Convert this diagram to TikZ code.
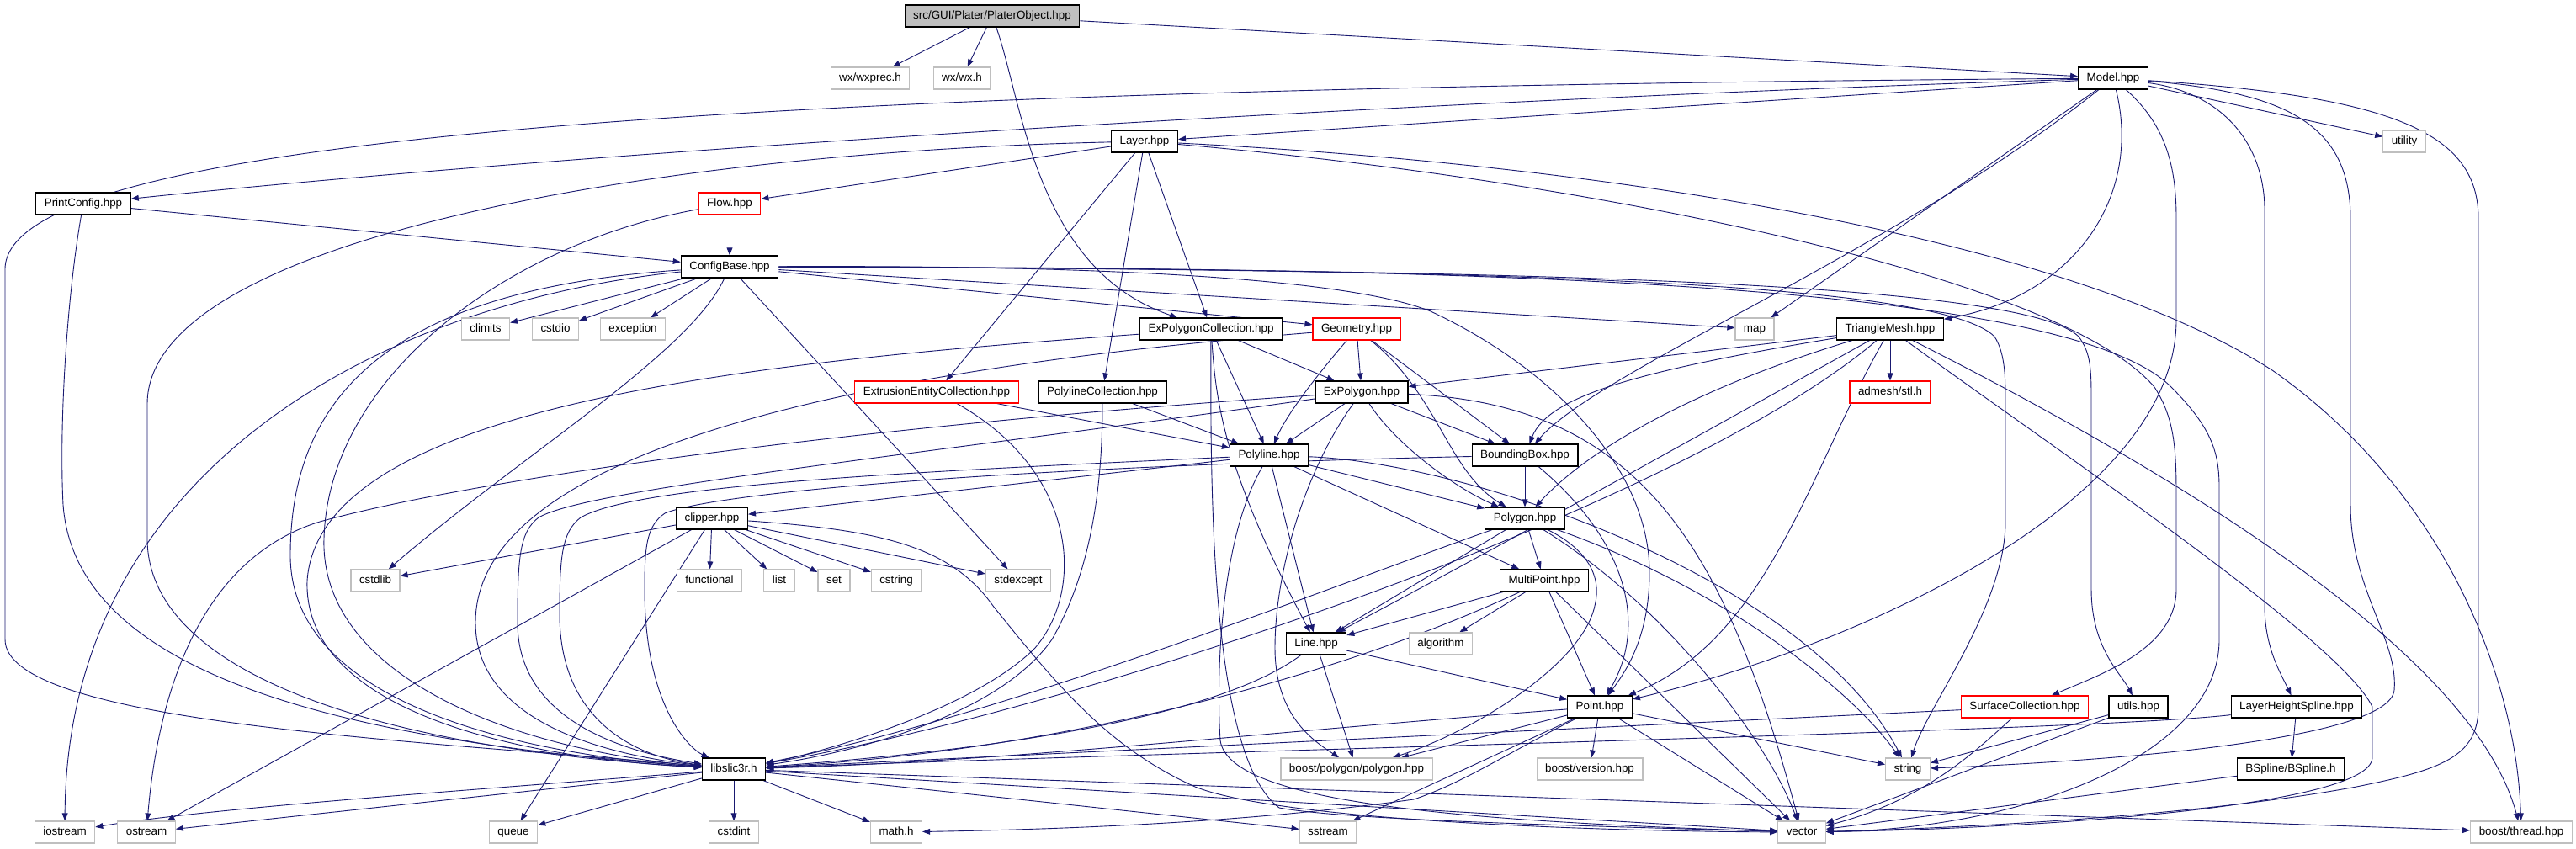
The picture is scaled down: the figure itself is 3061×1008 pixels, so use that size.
\documentclass[tikz,border=0pt]{standalone}
\usepackage{fontspec}
\setmainfont{Liberation Sans}
\usetikzlibrary{arrows.meta,backgrounds}

\definecolor{edgeblue}{HTML}{191970}
\definecolor{boxgray}{HTML}{BFBFBF}
\definecolor{boxred}{HTML}{FF0000}

\tikzset{
  filenode/.style={draw=black, fill=white, line width=0.6pt, inner xsep=5pt, inner ysep=0pt,
    minimum height=13pt, text height=5pt, text depth=1.4pt, font=\fontsize{6.7}{8}\selectfont},
  sysnode/.style={filenode, draw=boxgray},
  rednode/.style={filenode, draw=boxred},
  rootnode/.style={filenode, fill=boxgray},
  dep/.style={draw=edgeblue, line width=0.45pt, -{Triangle[length=4.5pt,width=3.4pt]}}
}

\begin{document}
\begin{tikzpicture}[x=0.5pt, y=-0.5pt]
  \useasboundingbox (0,0) rectangle (3061,1008);

  % Define the file nodes
  \node[rootnode] (root) at (1179,19) {src/GUI/Plater/PlaterObject.hpp};
  \node[sysnode] (wxprec) at (1034,93) {wx/wxprec.h};
  \node[sysnode] (wxh) at (1143,93) {wx/wx.h};
  \node[filenode] (model) at (2511,93) {Model.hpp};
  \node[filenode] (layer) at (1360,168) {Layer.hpp};
  \node[sysnode] (utility) at (2857,168) {utility};
  \node[filenode] (printcfg) at (99,242) {PrintConfig.hpp};
  \node[rednode] (flow) at (867,242) {Flow.hpp};
  \node[filenode] (cfgbase) at (867,317) {ConfigBase.hpp};
  \node[sysnode] (climits) at (577,391) {climits};
  \node[sysnode] (cstdio) at (660,391) {cstdio};
  \node[sysnode] (exception) at (752,391) {exception};
  \node[filenode] (expolycoll) at (1439,391) {ExPolygonCollection.hpp};
  \node[rednode] (geometry) at (1612,391) {Geometry.hpp};
  \node[sysnode] (map) at (2085,391) {map};
  \node[filenode] (trimesh) at (2246,391) {TriangleMesh.hpp};
  \node[rednode] (extrcoll) at (1113,466) {ExtrusionEntityCollection.hpp};
  \node[filenode] (polylinecoll) at (1310,466) {PolylineCollection.hpp};
  \node[filenode] (expolygon) at (1618,466) {ExPolygon.hpp};
  \node[rednode] (admesh) at (2246,466) {admesh/stl.h};
  \node[filenode] (polyline) at (1508,541) {Polyline.hpp};
  \node[filenode] (bbox) at (1812,541) {BoundingBox.hpp};
  \node[filenode] (clipper) at (846,616) {clipper.hpp};
  \node[filenode] (polygon) at (1812,616) {Polygon.hpp};
  \node[sysnode] (cstdlib) at (446,690) {cstdlib};
  \node[sysnode] (functional) at (843,690) {functional};
  \node[sysnode] (list) at (926,690) {list};
  \node[sysnode] (set) at (991,690) {set};
  \node[sysnode] (cstring) at (1065,690) {cstring};
  \node[sysnode] (stdexcept) at (1210,690) {stdexcept};
  \node[filenode] (multipoint) at (1835,690) {MultiPoint.hpp};
  \node[filenode] (line) at (1564,765) {Line.hpp};
  \node[sysnode] (algorithm) at (1712,765) {algorithm};
  \node[filenode] (point) at (1901,840) {Point.hpp};
  \node[rednode] (surfcoll) at (2406,840) {SurfaceCollection.hpp};
  \node[filenode] (utils) at (2541,840) {utils.hpp};
  \node[filenode] (lhspline) at (2729,840) {LayerHeightSpline.hpp};
  \node[filenode] (libslic3r) at (872,914) {libslic3r.h};
  \node[sysnode] (boostpoly) at (1612,914) {boost/polygon/polygon.hpp};
  \node[sysnode] (boostver) at (1889,914) {boost/version.hpp};
  \node[sysnode] (string) at (2267,914) {string};
  \node[filenode] (bspline) at (2722,914) {BSpline/BSpline.h};
  \node[sysnode] (iostream) at (77,989) {iostream};
  \node[sysnode] (ostream) at (174,989) {ostream};
  \node[sysnode] (queue) at (610,989) {queue};
  \node[sysnode] (cstdint) at (872,989) {cstdint};
  \node[sysnode] (mathh) at (1065,989) {math.h};
  \node[sysnode] (sstream) at (1578,989) {sstream};
  \node[sysnode] (vector) at (2141,989) {vector};
  \node[sysnode] (boostthread) at (2996,989) {boost/thread.hpp};

  \begin{pgfonlayer}{background}
  \fill[white] (0,0) rectangle (3061,1008);

  % PlaterObject.hpp
  \draw[dep] (root) -- (wxprec);
  \draw[dep] (root) -- (wxh);
  \draw[dep] (root) -- (model);
  \draw[dep] (root) .. controls (1215,120) and (1230,320) .. (expolycoll);

  % Model.hpp
  \draw[dep] (model) -- (layer);
  \draw[dep] (model) -- (utility);
  \draw[dep] (model) .. controls (1800,115) and (800,170) .. (printcfg);
  \draw[dep] (model) .. controls (900,105) and (6,160) .. (6,320) -- (6,760) .. controls (6,860) and (500,880) .. (libslic3r);
  \draw[dep] (model) -- (map);
  \draw[dep] (model) .. controls (2250,300) and (1900,440) .. (bbox);
  \draw[dep] (model) .. controls (2545,230) and (2470,350) .. (trimesh);
  \draw[dep] (model) .. controls (2575,150) and (2586,200) .. (2586,260) -- (2586,380) .. controls (2586,600) and (2200,770) .. (point);
  \draw[dep] (model) .. controls (2640,110) and (2691,170) .. (2691,250) -- (2691,720) .. controls (2691,770) and (2710,800) .. (lhspline);
  \draw[dep] (model) .. controls (2720,110) and (2793,150) .. (2793,260) -- (2793,600) .. controls (2793,700) and (2850,760) .. (2845,820) .. controls (2840,880) and (2500,905) .. (string);
  \draw[dep] (model) .. controls (2850,115) and (2945,160) .. (2945,260) -- (2945,840) .. controls (2945,900) and (2900,915) .. (2800,935) .. controls (2600,972) and (2300,985) .. (vector);

  % Layer.hpp
  \draw[dep] (layer) .. controls (800,180) and (175,280) .. (175,480) -- (175,640) .. controls (175,800) and (450,890) .. (libslic3r);
  \draw[dep] (layer) -- (flow);
  \draw[dep] (layer) -- (extrcoll);
  \draw[dep] (layer) -- (polylinecoll);
  \draw[dep] (layer) -- (expolycoll);
  \draw[dep] (layer) .. controls (1900,215) and (2450,330) .. (2560,460) .. controls (2586,500) and (2586,540) .. (2586,600) -- (2586,700) .. controls (2586,770) and (2500,800) .. (surfcoll);
  \draw[dep] (layer) .. controls (1900,195) and (2450,280) .. (2700,440) .. controls (2900,580) and (2990,800) .. (boostthread);

  % PrintConfig.hpp and Flow.hpp
  \draw[dep] (printcfg) -- (cfgbase);
  \draw[dep] (printcfg) .. controls (80,350) and (70,500) .. (75,600) .. controls (90,800) and (400,880) .. (libslic3r);
  \draw[dep] (flow) -- (cfgbase);
  \draw[dep] (flow) .. controls (600,290) and (390,450) .. (385,640) .. controls (380,800) and (600,890) .. (libslic3r);

  % ConfigBase.hpp
  \draw[dep] (cfgbase) -- (climits);
  \draw[dep] (cfgbase) -- (cstdio);
  \draw[dep] (cfgbase) -- (exception);
  \draw[dep] (cfgbase) .. controls (820,420) and (620,540) .. (cstdlib);
  \draw[dep] (cfgbase) -- (stdexcept);
  \draw[dep] (cfgbase) .. controls (450,360) and (80,560) .. (iostream);
  \draw[dep] (cfgbase) .. controls (450,345) and (345,480) .. (345,660) .. controls (345,830) and (600,895) .. (libslic3r);
  \draw[dep] (cfgbase) -- (geometry);
  \draw[dep] (cfgbase) -- (map);
  \draw[dep] (cfgbase) .. controls (1300,315) and (1600,330) .. (1700,370) .. controls (1850,440) and (1960,560) .. (1960,680) .. controls (1960,760) and (1930,800) .. (point);
  \draw[dep] (cfgbase) .. controls (1700,320) and (2400,330) .. (2470,400) .. controls (2485,420) and (2485,440) .. (2485,480) -- (2485,700) .. controls (2485,770) and (2520,800) .. (utils);
  \draw[dep] (cfgbase) .. controls (1700,320) and (2300,330) .. (2370,400) .. controls (2383,420) and (2383,450) .. (2383,480) -- (2383,620) .. controls (2383,720) and (2290,840) .. (string);
  \draw[dep] (cfgbase) .. controls (1700,318) and (2450,330) .. (2580,460) .. controls (2630,510) and (2637,540) .. (2637,580) -- (2637,760) .. controls (2637,900) and (2400,985) .. (vector);

  % ExPolygonCollection.hpp and Geometry.hpp
  \draw[dep] (expolycoll) .. controls (900,430) and (380,480) .. (365,690) .. controls (360,840) and (600,900) .. (libslic3r);
  \draw[dep] (expolycoll) -- (polyline);
  \draw[dep] (expolycoll) -- (expolygon);
  \draw[dep] (expolycoll) .. controls (1445,480) and (1455,560) .. (line);
  \draw[dep] (expolycoll) .. controls (1438,600) and (1440,900) .. (1520,960) .. controls (1600,975) and (1900,982) .. (vector);
  \draw[dep] (geometry) .. controls (1000,440) and (565,540) .. (565,740) .. controls (565,850) and (700,895) .. (libslic3r);
  \draw[dep] (geometry) .. controls (1570,440) and (1530,490) .. (polyline);
  \draw[dep] (geometry) -- (expolygon);
  \draw[dep] (geometry) -- (bbox);
  \draw[dep] (geometry) .. controls (1710,470) and (1720,560) .. (polygon);

  % TriangleMesh.hpp
  \draw[dep] (trimesh) -- (expolygon);
  \draw[dep] (trimesh) .. controls (1950,440) and (1840,470) .. (bbox);
  \draw[dep] (trimesh) .. controls (2050,450) and (1900,520) .. (polygon);
  \draw[dep] (trimesh) .. controls (2050,500) and (1800,640) .. (line);
  \draw[dep] (trimesh) .. controls (2000,600) and (1300,840) .. (libslic3r);
  \draw[dep] (trimesh) .. controls (2150,560) and (2100,760) .. (point);
  \draw[dep] (trimesh) -- (admesh);
  \draw[dep] (trimesh) .. controls (2450,540) and (2780,760) .. (2819,840) -- (2819,900) .. controls (2819,960) and (2400,985) .. (vector);
  \draw[dep] (trimesh) .. controls (2600,570) and (2940,780) .. (boostthread);

  % collections
  \draw[dep] (extrcoll) -- (polyline);
  \draw[dep] (extrcoll) .. controls (1280,560) and (1290,700) .. (1230,770) .. controls (1150,850) and (950,900) .. (libslic3r);
  \draw[dep] (polylinecoll) -- (polyline);
  \draw[dep] (polylinecoll) .. controls (1310,600) and (1290,690) .. (1250,760) .. controls (1180,860) and (980,900) .. (libslic3r);

  % ExPolygon.hpp
  \draw[dep] (expolygon) .. controls (1100,540) and (700,580) .. (640,615) .. controls (618,632) and (615,660) .. (615,740) .. controls (615,860) and (750,895) .. (libslic3r);
  \draw[dep] (expolygon) .. controls (1100,500) and (600,560) .. (380,620) .. controls (250,660) and (190,800) .. (ostream);
  \draw[dep] (expolygon) -- (polyline);
  \draw[dep] (expolygon) .. controls (1550,560) and (1515,680) .. (1515,770) .. controls (1515,850) and (1560,880) .. (boostpoly);
  \draw[dep] (expolygon) .. controls (1660,530) and (1730,580) .. (polygon);
  \draw[dep] (expolygon) -- (bbox);
  \draw[dep] (expolygon) .. controls (1950,480) and (2050,650) .. (vector);

  % Polyline.hpp
  \draw[dep] (polyline) .. controls (1100,560) and (760,575) .. (690,615) .. controls (668,632) and (665,660) .. (665,730) .. controls (665,860) and (760,900) .. (libslic3r);
  \draw[dep] (polyline) -- (clipper);
  \draw[dep] (polyline) -- (line);
  \draw[dep] (polyline) -- (multipoint);
  \draw[dep] (polyline) -- (polygon);
  \draw[dep] (polyline) .. controls (1750,550) and (2150,690) .. (string);
  \draw[dep] (polyline) .. controls (1450,640) and (1445,800) .. (1450,880) .. controls (1460,950) and (1700,975) .. (vector);

  % BoundingBox.hpp
  \draw[dep] (bbox) .. controls (1200,555) and (850,585) .. (790,610) .. controls (768,625) and (766,650) .. (766,700) .. controls (766,840) and (820,890) .. (libslic3r);
  \draw[dep] (bbox) -- (polygon);
  \draw[dep] (bbox) .. controls (1930,640) and (1960,740) .. (point);

  % clipper.hpp
  \draw[dep] (clipper) -- (cstdlib);
  \draw[dep] (clipper) -- (ostream);
  \draw[dep] (clipper) -- (queue);
  \draw[dep] (clipper) -- (functional);
  \draw[dep] (clipper) -- (list);
  \draw[dep] (clipper) -- (set);
  \draw[dep] (clipper) -- (cstring);
  \draw[dep] (clipper) -- (stdexcept);
  \draw[dep] (clipper) .. controls (1050,630) and (1130,650) .. (1180,720) .. controls (1260,820) and (1320,890) .. (1420,935) .. controls (1520,975) and (1900,988) .. (vector);

  % Polygon.hpp
  \draw[dep] (polygon) .. controls (1600,690) and (1200,850) .. (libslic3r);
  \draw[dep] (polygon) -- (line);
  \draw[dep] (polygon) -- (multipoint);
  \draw[dep] (polygon) .. controls (1880,650) and (1905,680) .. (1895,720) .. controls (1880,790) and (1750,870) .. (boostpoly);
  \draw[dep] (polygon) .. controls (1980,720) and (2100,880) .. (vector);
  \draw[dep] (polygon) .. controls (2050,700) and (2200,820) .. (string);

  % MultiPoint.hpp and Line.hpp
  \draw[dep] (multipoint) -- (line);
  \draw[dep] (multipoint) .. controls (1620,790) and (1300,890) .. (libslic3r);
  \draw[dep] (multipoint) -- (algorithm);
  \draw[dep] (multipoint) -- (point);
  \draw[dep] (multipoint) -- (vector);
  \draw[dep] (line) .. controls (1450,850) and (1200,890) .. (libslic3r);
  \draw[dep] (line) -- (boostpoly);
  \draw[dep] (line) -- (point);

  % Point.hpp
  \draw[dep] (point) .. controls (1500,870) and (1200,905) .. (libslic3r);
  \draw[dep] (point) -- (boostpoly);
  \draw[dep] (point) .. controls (1800,890) and (1740,930) .. (1680,950) .. controls (1500,975) and (1300,985) .. (mathh);
  \draw[dep] (point) -- (sstream);
  \draw[dep] (point) -- (boostver);
  \draw[dep] (point) -- (vector);
  \draw[dep] (point) -- (string);

  % the files on the lower right
  \draw[dep] (surfcoll) -- (libslic3r);
  \draw[dep] (surfcoll) .. controls (2350,890) and (2290,950) .. (vector);
  \draw[dep] (utils) -- (string);
  \draw[dep] (utils) -- (vector);
  \draw[dep] (lhspline) .. controls (2500,868) and (1500,890) .. (libslic3r);
  \draw[dep] (lhspline) -- (bspline);
  \draw[dep] (bspline) -- (vector);

  % libslic3r.h
  \draw[dep] (libslic3r) .. controls (550,940) and (250,960) .. (iostream);
  \draw[dep] (libslic3r) -- (ostream);
  \draw[dep] (libslic3r) -- (queue);
  \draw[dep] (libslic3r) -- (cstdint);
  \draw[dep] (libslic3r) -- (mathh);
  \draw[dep] (libslic3r) -- (sstream);
  \draw[dep] (libslic3r) -- (vector);
  \draw[dep] (libslic3r) -- (boostthread);
  \end{pgfonlayer}
\end{tikzpicture}
\end{document}
